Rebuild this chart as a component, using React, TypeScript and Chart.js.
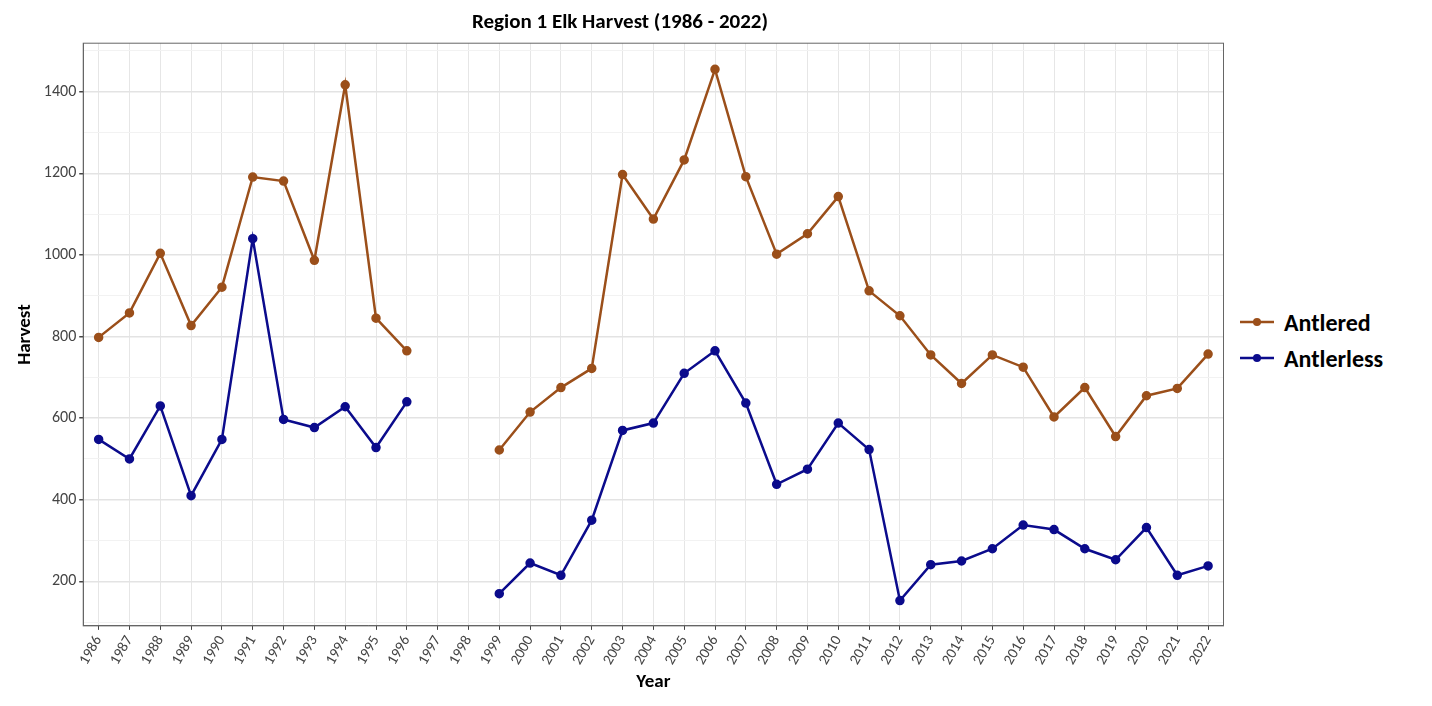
import { useEffect, useRef } from "react";
import { Chart, registerables } from "chart.js";

Chart.register(...registerables);

const years = Array.from({ length: 37 }, (_, i) => String(1986 + i));

const antlered = [
  798, 858, 1004, 827, 921, 1191, 1181, 987, 1417, 845, 765, null, null,
  522, 615, 675, 722, 1197, 1088, 1233, 1455, 1192, 1002, 1052, 1143, 912,
  851, 755, 685, 755, 725, 603, 675, 555, 655, 673, 757,
];

const antlerless = [
  548, 500, 630, 410, 548, 1040, 597, 577, 628, 528, 640, null, null,
  170, 245, 215, 350, 570, 588, 710, 765, 637, 438, 475, 588, 523,
  153, 241, 250, 280, 338, 327, 280, 253, 332, 215, 238,
];

const series = [
  { label: "Antlered", data: antlered, color: "#9b4f1a" },
  { label: "Antlerless", data: antlerless, color: "#0b0b8c" },
];

const font = "Calibri, 'Liberation Sans', 'DejaVu Sans', sans-serif";

const App = () => {
  const chartRef = useRef<Chart | null>(null);
  const canvas = useRef<HTMLCanvasElement | null>(null);

  useEffect(() => {
    const ctx = canvas.current?.getContext("2d");
    if (!ctx) return;
    chartRef.current = new Chart(ctx, {
      type: "line",
      data: {
        labels: years,
        datasets: series.map((s) => ({
          label: s.label,
          data: s.data,
          borderColor: s.color,
          backgroundColor: s.color,
          borderWidth: 2.5,
          pointRadius: 3.5,
          spanGaps: false,
          tension: 0,
        })),
      },
      options: {
        animation: false,
        responsive: false,
        layout: { padding: { left: 2, right: 0, top: 0 } },
        plugins: {
          legend: { display: false },
          tooltip: { enabled: false },
          title: {
            display: true,
            text: "Region 1 Elk Harvest (1986 - 2022)",
            color: "#000",
            font: { family: font, size: 21, weight: "bold" },
            padding: { top: 2, bottom: 8 },
          },
        },
        scales: {
          x: {
            offset: true,
            grid: { color: "#e6e6e6", offset: false, drawTicks: true, tickLength: 4, tickColor: "#444" },
            border: { color: "#666" },
            ticks: {
              autoSkip: false,
              maxRotation: 60,
              minRotation: 60,
              color: "#444",
              font: { family: font, size: 15 },
            },
            title: {
              display: true,
              text: "Year",
              color: "#000",
              font: { family: font, size: 19, weight: "bold" },
              padding: { top: 0 },
            },
          },
          y: {
            min: 91,
            max: 1519,
            afterBuildTicks: (axis: any) => {
              const t = [];
              for (let v = 100; v <= 1500; v += 100) t.push({ value: v });
              axis.ticks = t;
            },
            grid: {
              color: (c: any) => (c.tick && c.tick.value % 200 === 0 ? "#e3e3e3" : "#f2f2f2"),
              lineWidth: (c: any) => (c.tick && c.tick.value % 200 === 0 ? 1.5 : 1),
              tickLength: 4,
              tickColor: (c: any) => (c.tick && c.tick.value % 200 === 0 ? "#444" : "rgba(0,0,0,0)"),
            },
            border: { color: "#666" },
            ticks: {
              color: "#444",
              font: { family: font, size: 16 },
              callback: (v: any) => (Number(v) % 200 === 0 ? String(v) : ""),
            },
            title: {
              display: true,
              text: "Harvest",
              color: "#000",
              font: { family: font, size: 19, weight: "bold" },
            },
          },
        },
      },
      plugins: [
        {
          id: "frame",
          afterDraw: (c: Chart) => {
            const { left, right, top, bottom } = c.chartArea;
            const g = c.ctx;
            g.save();
            g.strokeStyle = "#666";
            g.lineWidth = 1;
            g.strokeRect(left, top, right - left, bottom - top);
            g.restore();
          },
        },
      ],
    });
    return () => {
      chartRef.current?.destroy();
      chartRef.current = null;
    };
  }, []);

  return (
    <div style={{ display: "flex", alignItems: "flex-start", fontFamily: font }}>
      <canvas ref={canvas} width={1222} height={690} style={{ width: 1222, height: 690 }} />
      <div style={{ marginTop: 296, marginLeft: 8 }}>
        {series.map((s) => (
          <div key={s.label} style={{ display: "flex", alignItems: "center", height: 36 }}>
            <svg width={38} height={12}>
              <line x1={2} y1={6} x2={36} y2={6} stroke={s.color} strokeWidth={2.5} />
              <circle cx={19} cy={6} r={4} fill={s.color} />
            </svg>
            <span style={{ fontSize: 24, fontWeight: "bold", marginLeft: 8 }}>{s.label}</span>
          </div>
        ))}
      </div>
    </div>
  );
};

export default App;
